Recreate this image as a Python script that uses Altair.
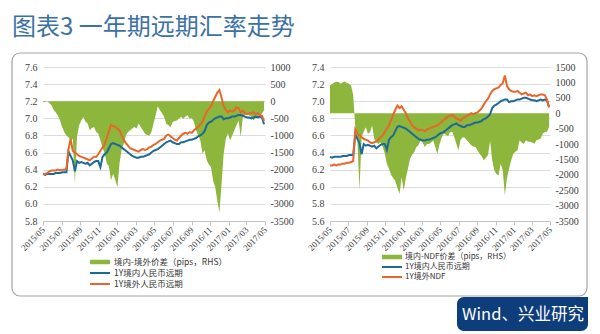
import altair as alt
import pandas as pd

# ---------------- data (weekly) ----------------
dates = pd.date_range("2015-05-25", periods=105, freq="7D")

onshore = [
    6.35, 6.34, 6.35, 6.35, 6.35, 6.35, 6.36, 6.36, 6.36, 6.37,
    6.37, 6.37, 6.61, 6.56, 6.51, 6.38, 6.50, 6.48, 6.49, 6.48,
    6.47, 6.48, 6.45, 6.47, 6.49, 6.50, 6.50, 6.43, 6.55, 6.58,
    6.60, 6.65, 6.70, 6.71, 6.70, 6.69, 6.68, 6.66, 6.64, 6.62,
    6.60, 6.58, 6.56, 6.55, 6.54, 6.54, 6.55, 6.55, 6.56, 6.57,
    6.58, 6.60, 6.62, 6.63, 6.64, 6.66, 6.68, 6.70, 6.72, 6.73,
    6.74, 6.72, 6.71, 6.70, 6.70, 6.72, 6.72, 6.73, 6.74, 6.75,
    6.75, 6.76, 6.77, 6.79, 6.80, 6.82, 6.85, 6.92, 6.95, 6.96,
    6.98, 7.00, 7.01, 7.02, 7.02, 6.99, 7.00, 7.00, 7.01, 7.02,
    7.02, 7.03, 7.04, 7.04, 7.03, 7.02, 7.01, 7.01, 7.00, 7.01,
    7.02, 7.01, 7.02, 7.01, 6.93,
]

offshore_cnh = [
    6.35, 6.35, 6.36, 6.38, 6.39, 6.39, 6.39, 6.40, 6.39, 6.40,
    6.40, 6.41, 6.64, 6.76, 6.62, 6.60, 6.58, 6.56, 6.55, 6.54,
    6.53, 6.52, 6.51, 6.53, 6.55, 6.55, 6.58, 6.62, 6.66, 6.70,
    6.77, 6.85, 6.92, 6.91, 6.90, 6.88, 6.86, 6.80, 6.75, 6.71,
    6.68, 6.65, 6.64, 6.63, 6.62, 6.61, 6.63, 6.64, 6.63, 6.64,
    6.66, 6.67, 6.69, 6.70, 6.72, 6.74, 6.75, 6.76, 6.80, 6.81,
    6.79, 6.77, 6.75, 6.74, 6.77, 6.80, 6.82, 6.83, 6.82, 6.84,
    6.83, 6.86, 6.88, 6.90, 6.93, 6.96, 7.02, 7.08, 7.11, 7.14,
    7.20, 7.25, 7.30, 7.33, 7.24, 7.14, 7.10, 7.07, 7.09, 7.08,
    7.09, 7.13, 7.12, 7.07, 7.09, 7.06, 7.05, 7.06, 7.06, 7.07,
    7.05, 7.06, 7.04, 7.03, 6.97,
]

spread_cnh = [
    -30, -20, 10, -60, -120, -250, -330, -420, -560, -750,
    -900, -1000, -1050, -1140, -1100, -2400, -1040, -700, -560, -460,
    -600, -650, -850, -780, -750, -900, -940, -1140, -1350, -1530,
    -1820, -1900, -2310, -2120, -2300, -2510, -1820, -1400, -1240, -1000,
    -900, -850, -800, -750, -800, -650, -750, -850, -950, -990,
    -1000, -900, -650, -400, -150, -265, -350, -460, -655, -700,
    -750, -610, -580, -560, -500, -460, -510, -450, -410, -510,
    -500, -600, -850, -1000, -1140, -1530, -1430, -1720, -1850, -1920,
    -2310, -2510, -2900, -3250, -2400, -1530, -1100, -946, -1140, -1000,
    -850, -700, -560, -1040, -460, -400, -362, -420, -460, -560,
    -500, -460, -400, -362, -265,
]

ndf = [
    6.25, 6.25, 6.26, 6.25, 6.26, 6.26, 6.27, 6.27, 6.28, 6.28,
    6.29, 6.30, 6.67, 6.62, 6.60, 6.58, 6.56, 6.55, 6.54, 6.52,
    6.51, 6.52, 6.53, 6.55, 6.58, 6.60, 6.64, 6.68, 6.72, 6.78,
    6.84, 6.90, 6.95, 6.92, 6.94, 6.90, 6.86, 6.80, 6.76, 6.72,
    6.69, 6.68, 6.66, 6.67, 6.66, 6.65, 6.67, 6.68, 6.69, 6.70,
    6.71, 6.72, 6.74, 6.76, 6.78, 6.80, 6.82, 6.83, 6.84, 6.82,
    6.80, 6.79, 6.77, 6.80, 6.81, 6.83, 6.84, 6.86, 6.85, 6.86,
    6.87, 6.89, 6.92, 6.96, 7.00, 7.03, 7.08, 7.12, 7.14, 7.15,
    7.16, 7.19, 7.21, 7.30, 7.18, 7.14, 7.12, 7.11, 7.11, 7.12,
    7.10, 7.08, 7.09, 7.10, 7.07, 7.08, 7.06, 7.07, 7.06, 7.07,
    7.08, 7.08, 7.07, 7.02, 6.93,
]

spread_ndf = [
    900, 950, 1000, 1020, 1010, 960, 1000, 1030, 980, 960,
    900, 600, -455, -890, -2500, -780, -600, -455, -670, -620,
    -400, -830, -950, -1000, -940, -1100, -1300, -1650, -1800, -2000,
    -2100, -2200, -2420, -2620, -2080, -2520, -2100, -1800, -1480, -1350,
    -1260, -1100, -1040, -890, -950, -1100, -1000, -1000, -950, -890,
    -1100, -1313, -1000, -800, -663, -700, -750, -620, -600, -770,
    -1000, -1200, -860, -780, -800, -880, -950, -1040, -1080, -1100,
    -1200, -1313, -1400, -1530, -1450, -1360, -900, -1530, -1860, -1970,
    -2020, -1640, -1860, -2660, -2100, -1800, -1530, -1313, -1250, -1200,
    -880, -950, -1000, -880, -930, -930, -950, -990, -880, -850,
    -820, -660, -620, -600, -450,
]

tick_months = [(2015, 5), (2015, 7), (2015, 9), (2015, 11), (2016, 1), (2016, 3),
               (2016, 5), (2016, 7), (2016, 9), (2016, 11), (2017, 1), (2017, 3), (2017, 5)]

left_ticks_l = [5.8, 6.0, 6.2, 6.4, 6.6, 6.8, 7.0, 7.2, 7.4, 7.6]
right_ticks_l = [-3500, -3000, -2500, -2000, -1500, -1000, -500, 0, 500, 1000]
left_ticks_r = [5.6, 5.8, 6.0, 6.2, 6.4, 6.6, 6.8, 7.0, 7.2, 7.4]
right_ticks_r = [-3500, -3000, -2500, -2000, -1500, -1000, -500, 0, 500, 1000, 1500]

TITLE = "图表3  一年期远期汇率走势"
FOOTER = "Wind、兴业研究"
legend_left = ["境内-境外价差（pips，RHS）", "1Y境内人民币远期", "1Y境外人民币远期"]
legend_right = ["境内-NDF价差（pips，RHS）", "1Y境内人民币远期", "1Y境外NDF"]

# ---------------- styles ----------------
GREEN = "#8db63c"
BLUE = "#1d6a98"
ORANGE = "#e9662a"
TITLE_BLUE = "#3b72a3"
BOX = "#0e3d7c"
SERIF = "Liberation Serif"
CJK = "Noto Sans CJK SC"
LAB = "#404040"

df = pd.DataFrame({
    "date": dates, "onshore": onshore, "cnh": offshore_cnh,
    "spread_cnh": spread_cnh, "ndf": ndf, "spread_ndf": spread_ndf,
})

W1, W2, H = 222, 220, 154


def x_enc():
    return alt.X(
        "date:T",
        scale=alt.Scale(domain=[alt.DateTime(year=2015, month=5, date=25),
                                alt.DateTime(year=2017, month=5, date=25)]),
        axis=alt.Axis(
            values=[alt.DateTime(year=y, month=m, date=25) for y, m in tick_months],
            format="%Y/%m", labelAngle=315, labelAlign="right", labelBaseline="middle",
            labelFont=SERIF, labelFontSize=9, labelColor=LAB, labelOverlap=False,
            labelPadding=3, grid=False, domainColor="#c4c4c4", tickColor="#c4c4c4",
            tickSize=4, title=None),
        title=None,
    )


def y_left(field, dom, ticks):
    return alt.Y(
        f"{field}:Q", scale=alt.Scale(domain=dom, nice=False, zero=False),
        axis=alt.Axis(orient="left", values=ticks, format=".1f", grid=True,
                      gridColor="#dcdcdc", domain=False, ticks=False,
                      labelFont=SERIF, labelFontSize=10, labelColor=LAB,
                      labelPadding=6, title=None),
        title=None,
    )


def y_right(field, dom, ticks):
    return alt.Y(
        f"{field}:Q", scale=alt.Scale(domain=dom, nice=False, zero=False),
        axis=alt.Axis(orient="right", values=ticks, grid=False, domain=False, ticks=False,
                      labelExpr="datum.value < 0 ? '-' + abs(datum.value) : '' + datum.value",
                      labelFont=SERIF, labelFontSize=10, labelColor=LAB,
                      labelPadding=5, title=None),
        title=None,
    )


def panel(line2_field, spread_field, ldom, lticks, rdom, rticks, labels, leg):
    area = alt.Chart(df).mark_area(color=GREEN, opacity=1).encode(
        x=x_enc(), y=y_right(spread_field, rdom, rticks), y2=alt.datum(0))
    blue = alt.Chart(df).mark_line(color=BLUE, strokeWidth=2).encode(
        x=x_enc(), y=y_left("onshore", ldom, lticks))
    orange = alt.Chart(df).mark_line(color=ORANGE, strokeWidth=2).encode(
        x=x_enc(), y=y_left(line2_field, ldom, lticks))
    lines = alt.layer(blue, orange)

    x0, x1, ys, tx, fs = leg
    legs = []
    for lab, col, sw, yy in zip(labels, [GREEN, BLUE, ORANGE], [4.5, 2, 2], ys):
        d = pd.DataFrame({"label": [lab]})
        legs.append(alt.Chart(d).mark_rule(color=col, strokeWidth=sw).encode(
            x=alt.value(x0), x2=alt.value(x1), y=alt.value(yy)))
        legs.append(alt.Chart(d).mark_text(align="left", baseline="middle", font=CJK,
                                           fontSize=fs, color="#333333").encode(
            text="label:N", x=alt.value(tx), y=alt.value(yy)))
    return area, lines, legs


one = pd.DataFrame({"t": [TITLE], "f": [FOOTER]})

# decorations drawn in the left panel's coordinates (its plot origin is at 43, 67)
bounds = alt.Chart(one).mark_rect(color="white", opacity=0).encode(
    x=alt.value(-43), x2=alt.value(557), y=alt.value(-67), y2=alt.value(267))
frame = alt.Chart(one).mark_rect(fillOpacity=0, stroke="#a3a3a3", strokeWidth=1.2,
                                 cornerRadius=8).encode(
    x=alt.value(-31), x2=alt.value(544), y=alt.value(-14), y2=alt.value(229))
title = alt.Chart(one).mark_text(align="left", baseline="middle", font=CJK, fontSize=24,
                                 fontWeight=400, color=TITLE_BLUE).encode(
    text="t:N", x=alt.value(-31), y=alt.value(-39))
box = alt.Chart(one).mark_rect(color=BOX, cornerRadiusBottomLeft=7, cornerRadiusBottomRight=7,
                               cornerRadiusTopLeft=7).encode(
    x=alt.value(414), x2=alt.value(545), y=alt.value(230), y2=alt.value(264))
boxtext = alt.Chart(one).mark_text(align="center", baseline="middle", font=CJK, fontSize=16.5,
                                   color="white").encode(
    text="f:N", x=alt.value(480), y=alt.value(248))

aL, lL, legL = panel("cnh", "spread_cnh", [5.8, 7.6], left_ticks_l, [-3500, 1000], right_ticks_l,
                     legend_left, (47, 67, [195, 206, 217], 71, 8.5))
aR, lR, legR = panel("ndf", "spread_ndf", [5.6, 7.4], left_ticks_r, [-3500, 1500], right_ticks_r,
                     legend_right, (52, 72, [190, 200, 210], 75, 8))

left = alt.layer(bounds, frame, box, boxtext, title, aL, lL, *legL).resolve_scale(
    y="independent").properties(width=W1, height=H)
right = alt.layer(aR, lR, *legR).resolve_scale(y="independent").properties(width=W2, height=H)

chart = alt.hconcat(left, right, spacing=65, bounds="flush").properties(
    padding=0, background="white").configure_view(strokeWidth=0)

chart.save("out.html", embed_options={"renderer": "svg", "actions": False})
